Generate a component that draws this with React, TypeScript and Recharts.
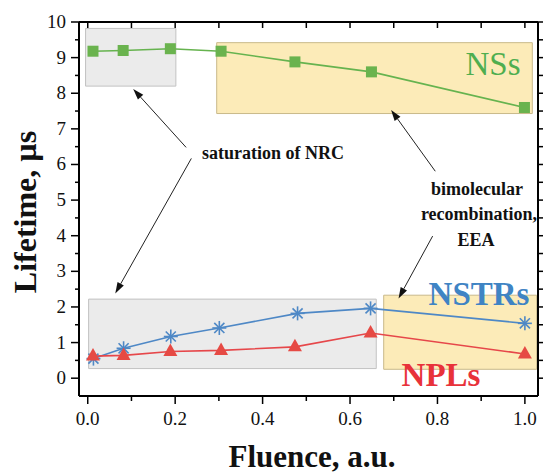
import React from 'react';
import { LineChart, Line, XAxis, YAxis, ReferenceArea, ReferenceLine } from 'recharts';

// ---- data ----
const nssX = [0.012, 0.081, 0.189, 0.305, 0.474, 0.649, 0.999];
const nssY = [9.18, 9.2, 9.25, 9.18, 8.88, 8.6, 7.6];
const nstrX = [0.013, 0.082, 0.19, 0.301, 0.48, 0.647, 1.0];
const nstrY = [0.55, 0.84, 1.17, 1.41, 1.82, 1.96, 1.54];
const nplX = [0.012, 0.082, 0.189, 0.305, 0.474, 0.647, 1.0];
const nplY = [0.62, 0.64, 0.75, 0.78, 0.88, 1.27, 0.68];

const xTicks = [0, 0.1, 0.2, 0.3, 0.4, 0.5, 0.6, 0.7, 0.8, 0.9, 1.0];
const xMajor = ['0.0', '', '0.2', '', '0.4', '', '0.6', '', '0.8', '', '1.0'];
const yTicks = [0, 0.5, 1, 1.5, 2, 2.5, 3, 3.5, 4, 4.5, 5, 5.5, 6, 6.5, 7, 7.5, 8, 8.5, 9, 9.5, 10];
const xDomain = [-0.02, 1.03];
const yDomain = [-0.5, 10];

// shaded regions [x1, x2, y1, y2]
const grayBoxTop = [-0.005, 0.2016, 8.2, 9.82];
const yellowBoxTop = [0.295, 1.017, 7.43, 9.42];
const grayBoxBottom = [0.002, 0.66, 0.27, 2.22];
const yellowBoxBottom = [0.677, 1.027, 0.25, 2.33];

// arrows [xStart, yStart, xTip, yTip]
const arrowSat1 = [0.225, 6.48, 0.104, 8.12];
const arrowSat2 = [0.237, 6.17, 0.063, 2.38];
const arrowBim1 = [0.795, 5.81, 0.694, 7.53];
const arrowBim2 = [0.789, 3.99, 0.711, 2.24];

const FONT = '"Liberation Serif", "Times New Roman", serif';

const toRows = (xs: number[], ys: number[]) => xs.map((x, i) => ({ x, y: ys[i] }));
const nssData = toRows(nssX, nssY);
const nstrData = toRows(nstrX, nstrY);
const nplData = toRows(nplX, nplY);

const GREEN = '#66b34f';
const BLUE = '#4e88c6';
const RED = '#e6474a';

const SquareDot = (p: any) => {
  const { cx, cy, index } = p;
  if (cx == null || cy == null) return <g key={index} />;
  return <rect key={'s' + index} x={cx - 5.5} y={cy - 5.5} width={11} height={11} fill="#6ab34e" />;
};

const StarDot = (p: any) => {
  const { cx, cy, index } = p;
  if (cx == null || cy == null) return <g key={index} />;
  const r = 7;
  const d = r * 0.72;
  return (
    <g key={'t' + index} stroke={BLUE} strokeWidth={1.6}>
      <line x1={cx - r} y1={cy} x2={cx + r} y2={cy} />
      <line x1={cx} y1={cy - r} x2={cx} y2={cy + r} />
      <line x1={cx - d} y1={cy - d} x2={cx + d} y2={cy + d} />
      <line x1={cx - d} y1={cy + d} x2={cx + d} y2={cy - d} />
    </g>
  );
};

const TriDot = (p: any) => {
  const { cx, cy, index } = p;
  if (cx == null || cy == null) return <g key={index} />;
  const pts = `${cx},${cy - 8} ${cx - 7},${cy + 4.5} ${cx + 7},${cy + 4.5}`;
  return <polygon key={'r' + index} points={pts} fill="#e64a44" />;
};

const BottomTick = (p: any) => {
  const { x, y, index } = p;
  const label = xMajor[index] || '';
  const major = label !== '';
  return (
    <g>
      <line x1={x} y1={y} x2={x} y2={y + (major ? 8 : 5)} stroke="#000" strokeWidth={1.5} />
      {major && (
        <text x={x} y={y + 29} textAnchor="middle" fontFamily={FONT} fontSize={19} fill="#111">
          {label}
        </text>
      )}
    </g>
  );
};

const TopTick = (p: any) => {
  const { x, y } = p;
  return <line x1={x} y1={y} x2={x} y2={y + 6} stroke="#000" strokeWidth={1.5} />;
};

const LeftTick = (p: any) => {
  const { x, y, payload } = p;
  const v = payload.value;
  const major = Number.isInteger(v);
  return (
    <g>
      <line x1={x} y1={y} x2={x - (major ? 8 : 4)} y2={y} stroke="#000" strokeWidth={1.5} />
      {major && (
        <text x={x - 13} y={y + 6} textAnchor="end" fontFamily={FONT} fontSize={19} fill="#111">
          {String(v)}
        </text>
      )}
    </g>
  );
};

const RightTick = (p: any) => {
  const { x, y } = p;
  return <line x1={x} y1={y} x2={x + 5} y2={y} stroke="#000" strokeWidth={1.5} />;
};

const ArrowShape = (p: any) => {
  const { x1, y1, x2, y2 } = p;
  if ([x1, y1, x2, y2].some((v) => v == null || isNaN(v))) return <g />;
  const dx = x2 - x1;
  const dy = y2 - y1;
  const len = Math.sqrt(dx * dx + dy * dy);
  const ux = dx / len;
  const uy = dy / len;
  const hl = 11;
  const hw = 3.6;
  const bx = x2 - ux * hl;
  const by = y2 - uy * hl;
  const pts = `${x2},${y2} ${bx - uy * hw},${by + ux * hw} ${bx + uy * hw},${by - ux * hw}`;
  return (
    <g>
      <line x1={x1} y1={y1} x2={bx} y2={by} stroke="#222" strokeWidth={1} />
      <polygon points={pts} fill="#111" />
    </g>
  );
};

const Annotations = () => (
  <svg width={543} height={473} style={{ position: 'absolute', left: 0, top: 0, pointerEvents: 'none' }}>
    <g fontFamily={FONT}>
      <text x={273} y={159} textAnchor="middle" fontSize={18} fontWeight={700} fill="#111">saturation of NRC</text>
      <text x={477} y={195} textAnchor="middle" fontSize={18} fontWeight={700} fill="#111">bimolecular</text>
      <text x={479} y={220} textAnchor="middle" fontSize={18} fontWeight={700} fill="#111">recombination,</text>
      <text x={476} y={246} textAnchor="middle" fontSize={18} fontWeight={700} fill="#111">EEA</text>
      <text x={493} y={75} textAnchor="middle" fontSize={33} fill="#4fae4f">NSs</text>
      <text x={479} y={305} textAnchor="middle" fontSize={33} fontWeight={700} fill="#3f84c4">NSTRs</text>
      <text x={441} y={386} textAnchor="middle" fontSize={33} fontWeight={700} fill="#e8323a">NPLs</text>
      <text x={312} y={467} textAnchor="middle" fontSize={31} fontWeight={700} fill="#111">Fluence, a.u.</text>
      <text x={0} y={0} transform="translate(36,212) rotate(-90)" textAnchor="middle" fontSize={32} fontWeight={700} fill="#111">Lifetime, µs</text>
    </g>
  </svg>
);

const box = (b: number[], fill: string, stroke: string, key: string) => (
  <ReferenceArea key={key} x1={b[0]} x2={b[1]} y1={b[2]} y2={b[3]} fill={fill} fillOpacity={1} stroke={stroke} strokeWidth={1} />
);

const arrow = (a: number[], key: string) => (
  <ReferenceLine
    key={key}
    segment={[{ x: a[0], y: a[1] }, { x: a[2], y: a[3] }]}
    stroke="#222"
    shape={ArrowShape}
  />
);

export default function App() {
  return (
    <div style={{ position: 'absolute', left: 0, top: 0, width: 543, height: 473, background: '#fff' }}>
      <LineChart width={543} height={473} margin={{ top: 21, right: 0, bottom: 76, left: 0 }}>
        <XAxis
          type="number"
          dataKey="x"
          domain={xDomain}
          allowDataOverflow
          ticks={xTicks}
          interval={0}
          tickSize={0}
          tickMargin={0}
          height={1}
          axisLine={{ stroke: '#000', strokeWidth: 2 }}
          tickLine={false}
          tick={BottomTick}
        />
        <XAxis
          xAxisId="top"
          orientation="top"
          type="number"
          dataKey="x"
          domain={xDomain}
          allowDataOverflow
          ticks={xTicks}
          interval={0}
          tickSize={0}
          tickMargin={0}
          height={1}
          axisLine={{ stroke: '#000', strokeWidth: 2 }}
          tickLine={false}
          tick={TopTick}
        />
        <YAxis
          type="number"
          dataKey="y"
          domain={yDomain}
          allowDataOverflow
          ticks={yTicks}
          interval={0}
          tickSize={0}
          tickMargin={0}
          width={79}
          axisLine={{ stroke: '#000', strokeWidth: 2 }}
          tickLine={false}
          tick={LeftTick}
        />
        <YAxis
          yAxisId="right"
          orientation="right"
          type="number"
          dataKey="y"
          domain={yDomain}
          allowDataOverflow
          ticks={yTicks}
          interval={0}
          tickSize={0}
          tickMargin={0}
          width={5}
          axisLine={{ stroke: '#000', strokeWidth: 2 }}
          tickLine={false}
          tick={RightTick}
        />
        {box(grayBoxTop, '#ebebeb', '#c2c2c2', 'g1')}
        {box(yellowBoxTop, '#fcebb8', '#c9b98a', 'y1')}
        {box(grayBoxBottom, '#ebebeb', '#c2c2c2', 'g2')}
        {box(yellowBoxBottom, '#fcebb8', '#c9b98a', 'y2')}
        <Line data={nssData} dataKey="y" stroke={GREEN} strokeWidth={1.6} dot={SquareDot} isAnimationActive={false} />
        <Line data={nstrData} dataKey="y" stroke={BLUE} strokeWidth={1.6} dot={StarDot} isAnimationActive={false} />
        <Line data={nplData} dataKey="y" stroke={RED} strokeWidth={1.6} dot={TriDot} isAnimationActive={false} />
        {arrow(arrowSat1, 'a1')}
        {arrow(arrowSat2, 'a2')}
        {arrow(arrowBim1, 'a3')}
        {arrow(arrowBim2, 'a4')}
      </LineChart>
      <Annotations />
    </div>
  );
}
